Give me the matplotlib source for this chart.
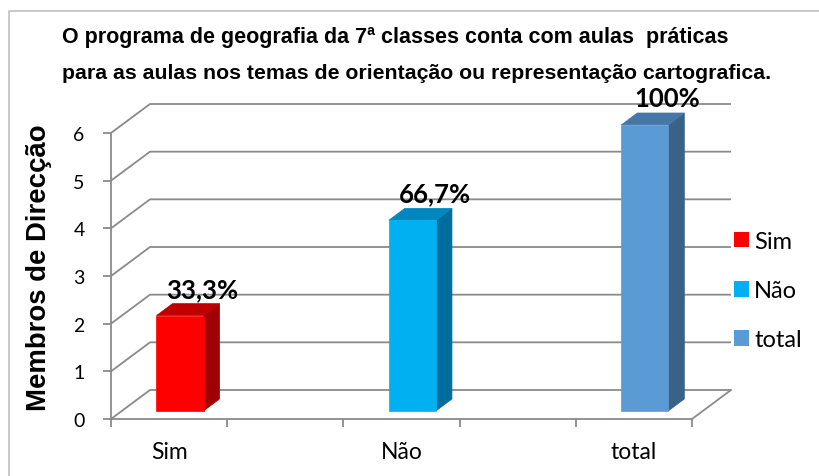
import matplotlib
matplotlib.use("Agg")
import matplotlib.pyplot as plt
from matplotlib.patches import Polygon, Patch
from matplotlib.lines import Line2D

# ---- data ----
categories = ["Sim", "Não", "total"]
values = [2, 4, 6]
pct_labels = ["33,3%", "66,7%", "100%"]
cat_pos = [0.5, 2.5, 4.5]          # slot positions (5 slots, 2 empty)
y_ticks = [0, 1, 2, 3, 4, 5, 6]
title_lines = ["O programa de geografia da 7ª classes conta com aulas  práticas",
               "para as aulas nos temas de orientação ou representação cartografica."]
ylabel = "Membros de Direcção"

front_colors = ["#FF0000", "#00B0F0", "#5B9BD5"]
top_colors = ["#C00000", "#0088BE", "#4677A6"]
side_colors = ["#A00000", "#006E9C", "#3A6286"]

W, H = 820, 477
fig = plt.figure(figsize=(W / 100, H / 100), dpi=100)

# axes = front plane of the 3D box
x0, x1, yb, yt = 111, 692, 420, 134
ax = fig.add_axes([x0 / W, (H - yb) / H, (x1 - x0) / W, (yb - yt) / H])
XMAX, YMAX = 5, 6
ax.set_xlim(0, XMAX)
ax.set_ylim(0, YMAX)
DX = 39 / ((x1 - x0) / XMAX)
DY = 29 / ((yb - yt) / YMAX)

grid_c = "#8A8A8A"
for s in ["top", "right"]:
    ax.spines[s].set_visible(False)
for s in ["left", "bottom"]:
    ax.spines[s].set_color(grid_c)
    ax.spines[s].set_linewidth(1.3)

ax.set_yticks(y_ticks)
ax.set_yticklabels([str(t) for t in y_ticks], family="Lato", fontsize=14)
ax.tick_params(axis="y", length=6, width=1.3, color=grid_c, pad=13)
ax.set_xticks(range(XMAX + 1))
ax.set_xticklabels([""] * (XMAX + 1))
ax.tick_params(axis="x", which="major", length=6, width=1.3, color=grid_c)
ax.set_xticks(cat_pos, minor=True)
ax.set_xticklabels(categories, minor=True, family="Lato", fontsize=16.5)
ax.tick_params(axis="x", which="minor", length=0, pad=16)

# walls / gridlines
for v in y_ticks:
    ax.plot([0, DX, XMAX + DX], [v, v + DY, v + DY], color=grid_c, lw=1.3,
            clip_on=False, zorder=1, solid_capstyle="butt")
ax.plot([XMAX, XMAX + DX], [0, DY], color=grid_c, lw=1.3, clip_on=False, zorder=1)

# 3D bars
w = 0.405
d0, d1 = 0.28, 0.69
for c, v, fc, tc, sc in zip(cat_pos, values, front_colors, top_colors, side_colors):
    l, r = c - w / 2, c + w / 2
    front = [(l + d0 * DX, d0 * DY), (r + d0 * DX, d0 * DY),
             (r + d0 * DX, v + d0 * DY), (l + d0 * DX, v + d0 * DY)]
    top = [(l + d0 * DX, v + d0 * DY), (r + d0 * DX, v + d0 * DY),
           (r + d1 * DX, v + d1 * DY), (l + d1 * DX, v + d1 * DY)]
    side = [(r + d0 * DX, d0 * DY), (r + d1 * DX, d1 * DY),
            (r + d1 * DX, v + d1 * DY), (r + d0 * DX, v + d0 * DY)]
    for pts, col in [(side, sc), (top, tc), (front, fc)]:
        ax.add_patch(Polygon(pts, closed=True, facecolor=col, edgecolor=col,
                             lw=0.5, clip_on=False, zorder=3))

for c, v, lab in zip(cat_pos, values, pct_labels):
    ax.text(c + 0.285, v + 0.73, lab, ha="center", va="center", family="Lato",
            fontweight="bold", fontsize=18.5, color="black", zorder=5, clip_on=False)

# legend
handles = [Patch(facecolor=col, edgecolor="none") for col in front_colors]
fig.legend(handles, categories, loc="center left",
           bbox_to_anchor=(734 / W, (H - 291.5) / H), bbox_transform=fig.transFigure,
           frameon=False, prop={"family": "Lato", "size": 17},
           handlelength=0.64, handleheight=0.64, handletextpad=0.22,
           labelspacing=1.2, borderpad=0, borderaxespad=0)

# title
fig.text(62 / W, (H - 43) / H, title_lines[0], ha="left", va="baseline",
         family="Liberation Sans", fontweight="bold", fontsize=15.5)
fig.text(62 / W, (H - 79) / H, title_lines[1], ha="left", va="baseline",
         family="Liberation Sans", fontweight="bold", fontsize=15.3)

# y label
fig.text(39 / W, (H - 268) / H, ylabel, rotation=90, ha="center", va="center",
         family="Liberation Sans", fontweight="bold", fontsize=19.8)

# chart border (top & left visible)
fig.add_artist(Line2D([9 / W, 9 / W, 1.0], [0.0, (H - 12) / H, (H - 12) / H],
                      transform=fig.transFigure, color="#BFBFBF", lw=1.2))

fig.savefig("out.png", dpi=100)
